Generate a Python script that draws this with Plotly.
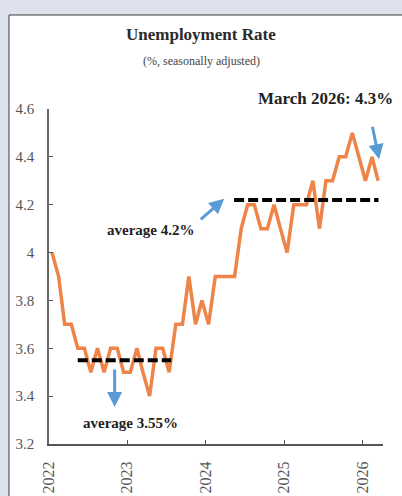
import pandas as pd
import plotly.graph_objects as go

# Monthly unemployment rate, % (seasonally adjusted), Jan 2022 - Mar 2026,
# each month plotted at its midpoint
months = pd.date_range("2022-01-01", "2026-03-01", freq="MS") + pd.Timedelta(days=14)
rate = [
    4.0, 3.9, 3.7, 3.7, 3.6, 3.6, 3.5, 3.6, 3.5, 3.6, 3.6, 3.5,   # 2022
    3.5, 3.6, 3.5, 3.4, 3.6, 3.6, 3.5, 3.7, 3.7, 3.9, 3.7, 3.8,   # 2023
    3.7, 3.9, 3.9, 3.9, 3.9, 4.1, 4.2, 4.2, 4.1, 4.1, 4.2, 4.1,   # 2024
    4.0, 4.2, 4.2, 4.2, 4.3, 4.1, 4.3, 4.3, 4.4, 4.4, 4.5, 4.4,   # 2025
    4.3, 4.4, 4.3,                                               # 2026
]

# Period averages drawn as dashed reference lines
avg_low = 3.55
avg_low_span = ["2022-05-15", "2023-07-25"]
avg_high = 4.22
avg_high_span = ["2024-05-13", "2026-03-17"]

y_ticks = [3.2, 3.4, 3.6, 3.8, 4.0, 4.2, 4.4, 4.6]
y_tick_text = ["3.2", "3.4", "3.6", "3.8", "4", "4.2", "4.4", "4.6"]
x_ticks = ["2022-01-01", "2023-01-01", "2024-01-01", "2025-01-01", "2026-01-01"]
x_tick_text = ["2022", "2023", "2024", "2025", "2026"]

ORANGE = "#ee8447"
BLUE = "#5b9bd5"
SERIF = "Liberation Serif, Times New Roman, serif"

W, H = 402, 496
L, R, T, B = 49, 19, 109, 52
pw, ph = W - L - R, H - T - B


def px_x(px):
    return (px - L) / pw


def px_y(py):
    return (H - B - py) / ph


fig = go.Figure()

fig.add_trace(go.Scatter(
    x=months, y=rate, mode="lines",
    line=dict(color=ORANGE, width=3.5), hoverinfo="skip",
))
fig.add_trace(go.Scatter(
    x=avg_low_span, y=[avg_low, avg_low], mode="lines",
    line=dict(color="black", width=4, dash="10px,4px"), hoverinfo="skip",
))
fig.add_trace(go.Scatter(
    x=avg_high_span, y=[avg_high, avg_high], mode="lines",
    line=dict(color="black", width=4, dash="10px,4px"), hoverinfo="skip",
))

# white panel with a thin dark frame on the top/left
fig.add_shape(
    type="rect", xref="paper", yref="paper", layer="below",
    x0=px_x(9), x1=px_x(420), y0=px_y(520), y1=px_y(15),
    fillcolor="white", line=dict(color="#3a3a3a", width=1),
)

annotations = [
    dict(text="<b>Unemployment Rate</b>", x=px_x(201), y=px_y(35),
         font=dict(family=SERIF, size=17, color="#2b2b2b")),
    dict(text="(%, seasonally adjusted)", x=px_x(201), y=px_y(61),
         font=dict(family=SERIF, size=12, color="#444444")),
    dict(text=f"<b>{months[-1].strftime('%B %Y')}: {rate[-1]}%</b>",
         x=px_x(325), y=px_y(98),
         font=dict(family=SERIF, size=17, color="#222222")),
    dict(text=f"<b>average {avg_high:.1f}%</b>", x=px_x(150), y=px_y(230),
         font=dict(family=SERIF, size=15, color="#222222")),
    dict(text=f"<b>average {avg_low}%</b>", x=px_x(130), y=px_y(423),
         font=dict(family=SERIF, size=15, color="#222222")),
]
for a in annotations:
    fig.add_annotation(xref="paper", yref="paper", showarrow=False,
                       xanchor="center", yanchor="middle", **a)

# blue pointer arrows (tip in data coordinates, tail offset in pixels)
arrows = [
    dict(x="2022-11-03", y=3.355, ax=0, ay=-39),
    dict(x="2024-03-28", y=4.225, ax=-25, ay=22),
    dict(x="2026-03-20", y=4.39, ax=-7, ay=-34),
]
for a in arrows:
    fig.add_annotation(
        xref="x", yref="y", axref="pixel", ayref="pixel", text="",
        showarrow=True, arrowhead=2, arrowsize=1, arrowwidth=3,
        arrowcolor=BLUE, **a,
    )

fig.update_layout(
    width=W, height=H,
    margin=dict(l=L, r=R, t=T, b=B, pad=0, autoexpand=False),
    paper_bgcolor="#dde2ec", plot_bgcolor="white",
    showlegend=False,
    xaxis=dict(
        type="date", range=["2022-01-01", "2026-04-07"], automargin=False,
        tickvals=x_ticks, ticktext=x_tick_text, tickangle=-90,
        ticks="inside", ticklen=4, tickcolor="#555555",
        showline=True, linecolor="#555555", linewidth=2,
        showgrid=False, zeroline=False, ticklabelstandoff=9,
        tickfont=dict(family=SERIF, size=16, color="#555555"),
    ),
    yaxis=dict(
        range=[3.2, 4.6], tickvals=y_ticks, ticktext=y_tick_text, automargin=False,
        ticks="inside", ticklen=4, tickcolor="#555555",
        showline=True, linecolor="#666666", linewidth=1.5,
        showgrid=False, zeroline=False, ticklabelstandoff=10,
        tickfont=dict(family=SERIF, size=15, color="#555555"),
    ),
)

fig.write_html("out.html")
